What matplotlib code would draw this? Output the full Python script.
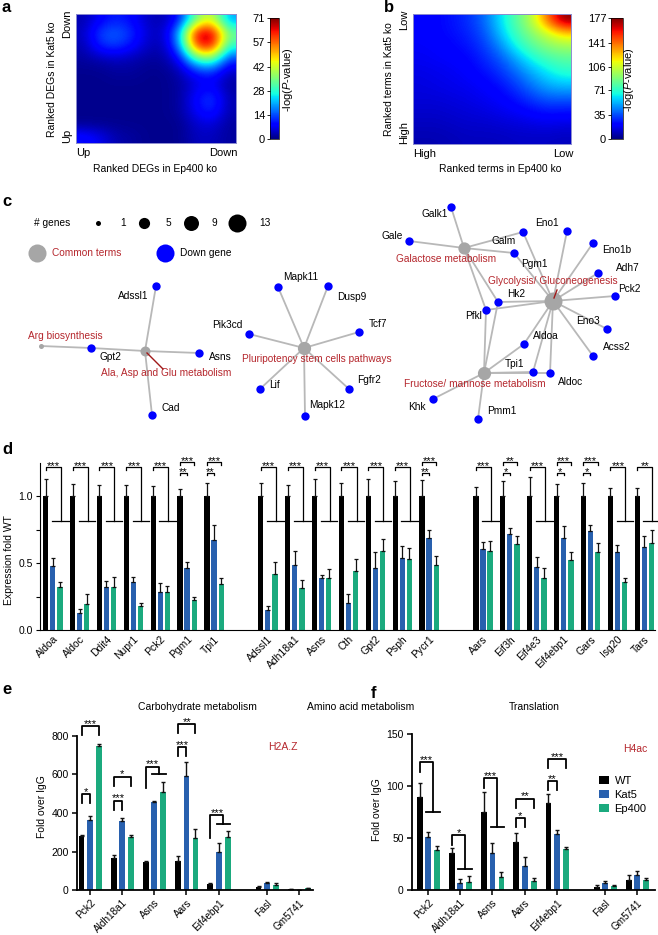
import numpy as np
import matplotlib
matplotlib.use('Agg')
import matplotlib.pyplot as plt
from matplotlib.patches import Patch

# ======================= DATA =======================
# panel a: -log(P) overlap heatmap (rows: Down(top) -> Up(bottom); cols: Up(left) -> Down(right))
a_grid = [
    [3, 8, 11, 9, 4, 3, 10, 35, 45, 20],
    [4, 14, 16, 12, 5, 4, 22, 68, 71, 35],
    [3, 11, 13, 9, 4, 3, 18, 60, 66, 28],
    [2, 3, 4, 3, 2, 2, 8, 30, 35, 12],
    [1, 1, 2, 2, 1, 1, 3, 10, 12, 4],
    [1, 1, 1, 1, 1, 1, 2, 6, 8, 2],
    [1, 1, 1, 1, 1, 1, 2, 9, 14, 3],
    [1, 1, 1, 1, 1, 1, 2, 8, 12, 3],
    [1, 1, 1, 1, 1, 1, 1, 5, 6, 2],
    [10, 7, 3, 2, 1, 1, 1, 4, 4, 2],
]
a_cbar_ticks = [0, 14, 28, 42, 57, 71]
a_xticklabels = ['Up', 'Down']
a_yticklabels = ['Up', 'Down']

# panel b (rows: Low(top) -> High(bottom); cols: High(left) -> Low(right))
b_grid = [
    [20, 22, 25, 30, 40, 60, 80, 100, 140, 177],
    [20, 22, 24, 28, 36, 55, 75, 90, 105, 120],
    [19, 20, 22, 25, 32, 45, 65, 80, 90, 95],
    [18, 19, 20, 22, 28, 36, 50, 65, 75, 80],
    [16, 17, 18, 20, 24, 30, 40, 52, 62, 70],
    [15, 16, 17, 18, 20, 24, 32, 42, 52, 55],
    [14, 14, 15, 16, 18, 20, 25, 32, 38, 38],
    [12, 12, 13, 14, 15, 17, 19, 22, 25, 24],
    [10, 10, 11, 12, 12, 13, 14, 15, 16, 15],
    [8, 8, 9, 10, 10, 10, 11, 11, 11, 10],
]
b_cbar_ticks = [0, 35, 71, 106, 141, 177]
b_xticklabels = ['High', 'Low']
b_yticklabels = ['High', 'Low']

# panel c: network
c_terms = ['Arg biosynthesis', 'Ala, Asp and Glu metabolism', 'Pluripotency stem cells pathways',
           'Galactose metabolism', 'Glycolysis/ Gluconeogenesis', 'Fructose/ mannose metabolism']
c_term_genes = [
    ['Gpt2'],
    ['Adssl1', 'Gpt2', 'Asns', 'Cad'],
    ['Mapk11', 'Dusp9', 'Tcf7', 'Pik3cd', 'Fgfr2', 'Lif', 'Mapk12'],
    ['Galk1', 'Gale', 'Galm', 'Pgm1', 'Hk2', 'Pfkl'],
    ['Eno1', 'Eno1b', 'Adh7', 'Pck2', 'Eno3', 'Acss2', 'Aldoa', 'Tpi1', 'Aldoc', 'Hk2', 'Pfkl', 'Galm', 'Pgm1'],
    ['Pfkl', 'Hk2', 'Aldoa', 'Tpi1', 'Aldoc', 'Khk', 'Pmm1'],
]
c_legend_sizes = [1, 5, 9, 13]

# panel d: expression fold WT
d_genes = ['Aldoa', 'Aldoc', 'Ddit4', 'Nupr1', 'Pck2', 'Pgm1', 'Tpi1',
           'Adssl1', 'Adh18a1', 'Asns', 'Cth', 'Gpt2', 'Psph', 'Pycr1',
           'Aars', 'Eif3h', 'Eif4e3', 'Eif4ebp1', 'Gars', 'Isg20', 'Tars']
d_wt = [1.0] * 21
d_wt_err = [0.125, 0.09, 0.085, 0.085, 0.077, 0.052, 0.095,
            0.10, 0.08, 0.127, 0.095, 0.13, 0.114, 0.12,
            0.07, 0.114, 0.14, 0.09, 0.10, 0.062, 0.062]
d_kat5 = [0.478, 0.13, 0.318, 0.356, 0.286, 0.46, 0.672,
          0.149, 0.483, 0.386, 0.199, 0.465, 0.535, 0.689,
          0.602, 0.714, 0.472, 0.689, 0.741, 0.58, 0.622]
d_kat5_err = [0.057, 0.024, 0.047, 0.037, 0.067, 0.05, 0.109,
              0.03, 0.104, 0.024, 0.069, 0.115, 0.092, 0.057,
              0.057, 0.045, 0.07, 0.087, 0.043, 0.054, 0.082]
d_ep400 = [0.318, 0.194, 0.318, 0.179, 0.286, 0.224, 0.343,
           0.415, 0.311, 0.386, 0.443, 0.59, 0.527, 0.485,
           0.59, 0.642, 0.386, 0.522, 0.58, 0.356, 0.647]
d_ep400_err = [0.04, 0.074, 0.075, 0.025, 0.042, 0.02, 0.043,
               0.09, 0.062, 0.072, 0.084, 0.087, 0.083, 0.067,
               0.076, 0.059, 0.074, 0.062, 0.072, 0.034, 0.099]
d_sig = ['***', '***', '***', '***', '***', ('**', '***'), ('**', '***'),
         '***', '***', '***', '***', '***', '***', ('**', '***'),
         '***', ('*', '**'), '***', ('*', '***'), ('*', '***'), '***', '**']
d_categories = ['Carbohydrate metabolism', 'Amino acid metabolism', 'Translation']

# panel e / f: ChIP fold over IgG
ef_genes = ['Pck2', 'Aldh18a1', 'Asns', 'Aars', 'Eif4ebp1', 'Fasl', 'Gm5741']
e_wt = [280, 165, 148, 150, 32, 18, 6]
e_wt_err = [5, 20, 5, 25, 5, 3, 2]
e_kat5 = [365, 360, 455, 590, 200, 37, 3]
e_kat5_err = [20, 12, 8, 75, 45, 4, 1]
e_ep400 = [745, 278, 510, 272, 275, 28, 10]
e_ep400_err = [10, 8, 50, 45, 30, 8, 3]
e_sig = [('D', '*', 498, '***', 850), ('D', '***', 464, '*', 588), ('T', '***', 527, 640, 600),
         ('D', '***', 740, '**', 859), ('T', '***', 269, 390, 341), None, None]

f_wt = [89.3, 35.3, 75.5, 46.6, 83.5, 3.2, 9.6]
f_wt_err = [13.7, 5.5, 18.5, 8.7, 9.0, 1.6, 4.9]
f_kat5 = [51.4, 6.4, 36.0, 23.1, 53.6, 6.4, 14.5]
f_kat5_err = [4.2, 3.9, 9.0, 9.0, 4.2, 2.6, 4.1]
f_ep400 = [38.5, 8.0, 12.2, 8.7, 39.2, 3.9, 9.6]
f_ep400_err = [3.9, 5.8, 4.8, 2.5, 2.6, 0.9, 1.6]
f_sig = [('T', '***', 114, 123, 75.5), ('T', '*', 43, 53, 20), ('T', '***', 98, 107.6, 61),
         ('D', '*', 69, '**', 88), ('D', '**', 105, '***', 126), None, None]
series_names = ['WT', 'Kat5', 'Ep400']

# ======================= STYLE / LAYOUT =======================
plt.rcParams['font.family'] = ['Liberation Sans', 'DejaVu Sans']
plt.rcParams['mathtext.fontset'] = 'custom'
plt.rcParams['mathtext.rm'] = 'Liberation Sans'
plt.rcParams['mathtext.it'] = 'Liberation Sans:italic'
plt.rcParams['font.size'] = 7.5

W, H = 658, 935
fig = plt.figure(figsize=(W / 100, H / 100), dpi=100)
COLORS = ['#000000', '#2860AE', '#1BAA7E']
RED = '#B5272D'


def px_axes(l, t, r, b):
    return fig.add_axes([l / W, 1 - b / H, (r - l) / W, (b - t) / H])


def ftext(x, y, s, **kw):
    return fig.text(x / W, 1 - y / H, s, **kw)


# panel letters
for lab, (x, y) in zip('abcdef', [(2, 8), (384, 8), (2, 202), (2, 450), (2, 690), (371, 693)]):
    ftext(x, y, lab, fontsize=12, fontweight='bold', va='center', ha='left')


# ----------------- heatmaps -----------------
def heatmap(box, cbox, grid, ticks, xtl, ytl, xlabel, ylabel, xlab_pos, ylab_pos, ytl_x, cbl_x):
    ax = px_axes(*box)
    g = np.array(grid, float)
    im = ax.imshow(g, cmap='jet', vmin=0, vmax=ticks[-1], extent=[0, 1, 0, 1],
                   aspect='auto', interpolation='bicubic')
    ax.set_xticks([])
    ax.set_yticks([])
    for s in ax.spines.values():
        s.set_color('#8c8cd0')
        s.set_linewidth(0.7)
    l, t, r, b = box
    ftext(l, b + 10, xtl[0], ha='left', va='center', fontsize=8)
    ftext(r + 2, b + 10, xtl[1], ha='right', va='center', fontsize=8)
    ftext(ytl_x, b, ytl[0], ha='center', va='bottom', rotation=90, fontsize=8)
    ftext(ytl_x, t - 4, ytl[1], ha='center', va='top', rotation=90, fontsize=8)
    ftext(xlab_pos[0], xlab_pos[1], xlabel, ha='center', va='center', fontsize=7.5)
    ftext(ylab_pos[0], ylab_pos[1], ylabel, ha='center', va='center', rotation=90, fontsize=7.5)
    cax = px_axes(*cbox)
    cb = fig.colorbar(im, cax=cax, ticks=ticks)
    cb.outline.set_linewidth(0.5)
    cax.yaxis.set_ticks_position('left')
    cax.tick_params(length=2, width=0.6, pad=1.5, labelsize=8)
    ftext(cbl_x, 79, '-log($P$-value)', rotation=90, ha='center', va='center', fontsize=8)


heatmap((76, 14, 236, 143), (270, 18, 279, 139), a_grid, a_cbar_ticks, a_xticklabels, a_yticklabels,
        'Ranked DEGs in Ep400 ko', 'Ranked DEGs in Kat5 ko', (155, 169), (52, 79), 67.5, 288)
heatmap((413, 14, 571, 144), (611, 18, 623, 139), b_grid, b_cbar_ticks, b_xticklabels, b_yticklabels,
        'Ranked terms in Ep400 ko', 'Ranked terms in Kat5 ko', (500, 169), (389, 79), 404, 629)

# ----------------- panel c: network -----------------
axc = px_axes(0, 190, W, 432)
axc.set_xlim(0, W)
axc.set_ylim(432, 190)
axc.axis('off')

c_layout = {
    'Arg biosynthesis': (41, 346), 'Ala, Asp and Glu metabolism': (145, 351),
    'Pluripotency stem cells pathways': (304, 348), 'Galactose metabolism': (464, 248),
    'Glycolysis/ Gluconeogenesis': (553, 301), 'Fructose/ mannose metabolism': (484, 373),
    'Gpt2': (91, 348), 'Adssl1': (156, 286), 'Asns': (199, 353), 'Cad': (152, 415),
    'Mapk11': (278, 287), 'Dusp9': (328, 286), 'Tcf7': (359, 332), 'Pik3cd': (249, 334),
    'Fgfr2': (349, 389), 'Lif': (260, 389), 'Mapk12': (305, 416),
    'Galk1': (451, 207), 'Gale': (409, 241), 'Galm': (523, 232), 'Pgm1': (514, 253),
    'Eno1': (567, 231), 'Eno1b': (593, 243), 'Adh7': (598, 273), 'Pck2': (615, 296),
    'Eno3': (607, 329), 'Acss2': (593, 356), 'Hk2': (498, 302), 'Pfkl': (486, 310),
    'Aldoa': (524, 344), 'Tpi1': (533, 372), 'Aldoc': (550, 373), 'Khk': (433, 399),
    'Pmm1': (478, 419),
}
c_label_pos = {
    'Arg biosynthesis': (28, 336), 'Ala, Asp and Glu metabolism': (101, 373),
    'Pluripotency stem cells pathways': (242, 359), 'Galactose metabolism': (396, 259),
    'Glycolysis/ Gluconeogenesis': (488, 281), 'Fructose/ mannose metabolism': (404, 384),
    'Adssl1': (118, 296), 'Gpt2': (100, 357), 'Asns': (209, 357), 'Cad': (161, 408),
    'Mapk11': (283, 277), 'Dusp9': (337, 297), 'Tcf7': (369, 324), 'Pik3cd': (212, 325),
    'Fgfr2': (357, 380), 'Lif': (269, 385), 'Mapk12': (309, 405),
    'Galk1': (422, 214), 'Gale': (381, 236), 'Galm': (492, 241), 'Pgm1': (521, 264),
    'Eno1': (535, 223), 'Eno1b': (602, 250), 'Adh7': (616, 268), 'Pck2': (618, 289),
    'Eno3': (576, 321), 'Acss2': (603, 347), 'Hk2': (507, 294), 'Pfkl': (465, 316),
    'Aldoa': (533, 336), 'Tpi1': (505, 364), 'Aldoc': (558, 382), 'Khk': (408, 407),
    'Pmm1': (487, 411),
}


def node_ms(n):  # marker size (points) from number of genes
    return 0.72 * 5.0 * np.sqrt(n)


for term, genes in zip(c_terms, c_term_genes):
    x0, y0 = c_layout[term]
    for g in genes:
        x1, y1 = c_layout[g]
        axc.plot([x0, x1], [y0, y1], color='#b8b8b8', lw=1.3, zorder=1, solid_capstyle='round')
genes_all = sorted({g for gs in c_term_genes for g in gs})
for g in genes_all:
    x, y = c_layout[g]
    axc.plot(x, y, 'o', ms=6.0, color='#0000FF', mec='none', zorder=3)
    lx, ly = c_label_pos[g]
    axc.text(lx, ly, g, ha='left', va='center', fontsize=7.3, zorder=5)
for term, genes in zip(c_terms, c_term_genes):
    x, y = c_layout[term]
    axc.plot(x, y, 'o', ms=node_ms(len(genes)), color='#a6a6a6', mec='none', zorder=4)
    lx, ly = c_label_pos[term]
    axc.text(lx, ly, term, ha='left', va='center', fontsize=7.3, color=RED, zorder=5)
# pointer lines
axc.plot([147, 163], [353, 369], color='#a01818', lw=1.0, zorder=6)
axc.plot([554, 557], [298, 290], color='#a01818', lw=1.0, zorder=6)

# legend of panel c
axc.text(34, 223, '# genes', ha='left', va='center', fontsize=7.3)
for n, xd, xt in zip(c_legend_sizes, [98, 144, 191, 237], [120, 166, 211, 259]):
    axc.plot(xd, 223, 'o', ms=node_ms(n), color='black', mec='none')
    axc.text(xt, 223, str(n), ha='left', va='center', fontsize=7.3)
axc.plot(37, 253, 'o', ms=13, color='#a6a6a6', mec='none')
axc.text(52, 253, 'Common terms', ha='left', va='center', fontsize=7.3, color=RED)
axc.plot(165, 253, 'o', ms=13, color='#0000FF', mec='none')
axc.text(180, 253, 'Down gene', ha='left', va='center', fontsize=7.3)

# ----------------- panel d -----------------
axd = px_axes(40, 462.5, 655, 630)
d_pos = np.array(list(range(0, 7)) + list(range(8, 15)) + list(range(16, 23)), float)
offs = [-0.26, 0.0, 0.27]
ek = dict(ecolor='#111111', elinewidth=0.9, capsize=1.4, capthick=0.9)
for vals, errs, off, col in zip([d_wt, d_kat5, d_ep400], [d_wt_err, d_kat5_err, d_ep400_err], offs, COLORS):
    axd.bar(d_pos + off, vals, 0.2, color=col, yerr=[np.zeros(len(vals)), errs], error_kw=ek, zorder=2)
axd.set_xlim(-0.47, 22.4)
axd.set_ylim(0, 1.25)
axd.set_yticks([0, 0.25, 0.5, 0.75, 1.0])
axd.set_yticklabels(['0.0', '', '0.5', '', '1.0'])
axd.set_xticks(d_pos)
axd.set_xticklabels(d_genes, rotation=45, ha='right', rotation_mode='anchor', fontsize=7.5)
for s in ['top', 'right']:
    axd.spines[s].set_visible(False)
for s in ['left', 'bottom']:
    axd.spines[s].set_linewidth(0.8)
axd.tick_params(axis='y', length=3, width=0.8, pad=2, labelsize=7.5)
axd.tick_params(axis='x', length=0, pad=3)
ftext(9, 560, 'Expression fold WT', rotation=90, ha='center', va='center', fontsize=7.5)

LW = dict(color='black', lw=0.9, clip_on=False, zorder=5)


def star(ax, x, y, s, dy=-1.5, fs=8):
    ax.annotate(s, (x, y), xytext=(0, dy), textcoords='offset points', ha='center',
                va='baseline', fontsize=fs, annotation_clip=False)


for xc, sig in zip(d_pos, d_sig):
    xb, xk, xg = xc + offs[0], xc + offs[1], xc + offs[2]
    if isinstance(sig, str):
        yh, yT, xv = 1.215, 0.815, xc + 0.30
        axd.plot([xb, xb, xv, xv], [yh - 0.02, yh, yh, yT], **LW)
        axd.plot([xc - 0.03, xc + 0.59], [yT, yT], **LW)
        star(axd, (xb + xv) / 2, yh, sig)
    else:
        lo, hi = sig
        for x2, yy, s in [(xk, 1.175, lo), (xg, 1.255, hi)]:
            axd.plot([xb, xb, x2, x2], [yy - 0.02, yy, yy, yy - 0.02], **LW)
            star(axd, (xb + x2) / 2, yy, s)

# category titles
for cat, (x, y) in zip(d_categories, [(197, 707), (361, 707), (534, 707)]):
    ftext(x, y, cat, ha='center', va='center', fontsize=7.5)


# ----------------- panels e / f -----------------
def chip_panel(box, xlim, ymax, yticks, wt, wte, k5, k5e, ep, epe, sig, leg, mark, mark_pos, ylab_pos):
    ax = px_axes(*box)
    pos = np.array([0, 1, 2, 3, 4, 5.5, 6.5])
    offs2 = [-0.26, 0.0, 0.28]
    ek2 = dict(ecolor='#111111', elinewidth=1.0, capsize=1.5, capthick=1.0)
    for vals, errs, off, col, nm in zip([wt, k5, ep], [wte, k5e, epe], offs2, COLORS, series_names):
        ax.bar(pos + off, vals, 0.18, color=col, yerr=[np.zeros(len(vals)), errs], error_kw=ek2,
               zorder=2, label=nm)
    ax.set_xlim(*xlim)
    ax.set_ylim(0, ymax)
    ax.set_yticks(yticks)
    ax.set_xticks(pos)
    ax.set_xticklabels(ef_genes, rotation=45, ha='right', rotation_mode='anchor', fontsize=7.2)
    for s in ['top', 'right']:
        ax.spines[s].set_visible(False)
    for s in ['left', 'bottom']:
        ax.spines[s].set_linewidth(1.3)
    ax.tick_params(axis='y', length=3.5, width=1.1, pad=2.5, labelsize=7.5)
    ax.tick_params(axis='x', length=3.5, width=1.1, pad=2.0)
    lw = dict(color='black', lw=1.3, clip_on=False, zorder=5)
    for xc, sg in zip(pos, sig):
        if sg is None:
            continue
        xb, xk, xg = xc + offs2[0], xc + offs2[1], xc + offs2[2]
        if sg[0] == 'D':
            _, s_lo, y_lo, s_hi, y_hi = sg
            for x2, yy, s in [(xk, y_lo, s_lo), (xg, y_hi, s_hi)]:
                ax.plot([xb, xb, x2, x2], [yy - leg, yy, yy, yy - leg], **lw)
                star(ax, (xb + x2) / 2, yy, s, dy=-0.5)
        else:
            _, s, y0, y1, yT = sg
            xv = xc + 0.15
            ax.plot([xb, xb, xv, xv], [y0, y1, y1, yT], **lw)
            ax.plot([xc - 0.06, xc + 0.36], [yT, yT], **lw)
            star(ax, (xb + xv) / 2, y1, s, dy=-0.5)
    ftext(mark_pos[0], mark_pos[1], mark, color=RED, ha='left', va='center', fontsize=7.5)
    ftext(ylab_pos[0], ylab_pos[1], 'Fold over IgG', rotation=90, ha='center', va='center', fontsize=7.5)
    return ax


axe = chip_panel((77, 735.7, 313, 890.3), (-0.40, 6.93), 800, [0, 200, 400, 600, 800],
                 e_wt, e_wt_err, e_kat5, e_kat5_err, e_ep400, e_ep400_err, e_sig, 47,
                 'H2A.Z', (268, 747), (42, 807))
axf = chip_panel((412, 734.3, 655, 890), (-0.5, 7.05), 150, [0, 50, 100, 150],
                 f_wt, f_wt_err, f_kat5, f_kat5_err, f_ep400, f_ep400_err, f_sig, 8.7,
                 'H4ac', (623, 749), (377, 810))
handles = [Patch(facecolor=c, edgecolor='none') for c in COLORS]
axf.legend(handles, series_names, loc='upper left', bbox_to_anchor=(599 / W, 1 - 776 / H),
           bbox_transform=fig.transFigure, frameon=False, handlelength=0.9, handleheight=0.75,
           handletextpad=0.5, labelspacing=0.35, borderpad=0, borderaxespad=0, fontsize=8)

fig.savefig('out.png', dpi=100)
